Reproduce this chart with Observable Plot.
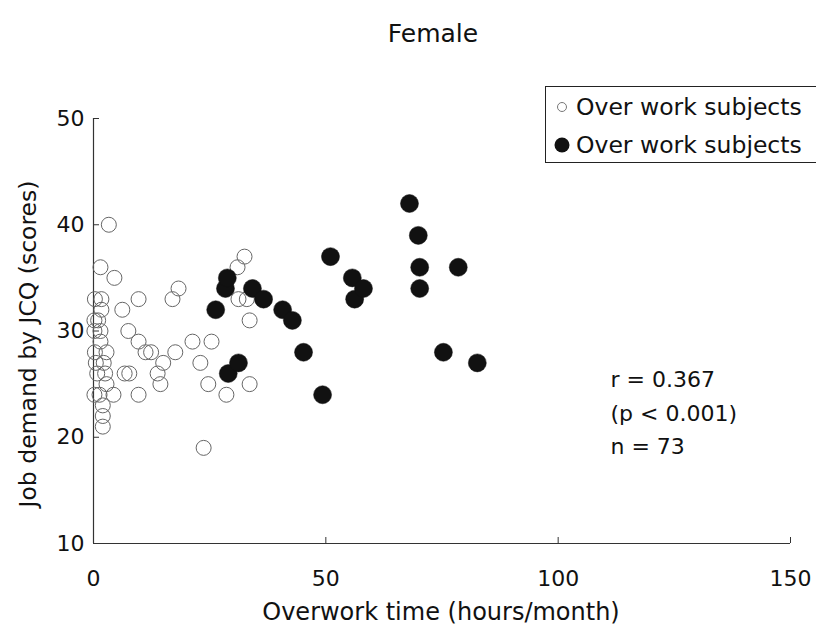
<!DOCTYPE html>
<html><head><meta charset="utf-8">
<script src="https://cdn.jsdelivr.net/npm/d3@7"></script>
<script src="https://cdn.jsdelivr.net/npm/@observablehq/plot@0.6"></script>
<style>
html,body{margin:0;padding:0;background:#fff;overflow:hidden;}
#wrap{position:relative;width:816px;height:633px;font-family:"DejaVu Sans",sans-serif;color:#111;}
#legend{position:absolute;left:545px;top:86px;width:300px;height:75px;border:1px solid #222;background:#fff;}
.row{position:absolute;left:0;height:30px;display:flex;align-items:center;font-size:23.5px;white-space:nowrap;}
.row svg{margin-left:8px;margin-right:6px;}
</style></head>
<body>
<div id="wrap"><div id="legend"></div></div>
<script>
// Open circles (x: overwork hours/month, y: JCQ job demand score)
const openX = [3.3,1.5,4.5,1.7,9.7,1.7,6.2,1.0,0.2,0.2,1.5,7.5,1.5,9.7,2.8,11.2,12.4,17.6,2.2,15.0,0.8,2.5,6.7,7.7,13.8,2.8,14.4,0.2,1.3,4.3,9.7,2.0,2.0,2.0,18.3,17.0,21.3,25.4,23.0,24.7,33.6,28.6,23.7,32.5,31.0,31.2,33.0,33.6,0.3,0.3,0.5];
const openY = [40,36,35,33,33,32,32,31,31,30,30,30,29,29,28,28,28,28,27,27,26,26,26,26,26,25,25,24,24,24,24,23,22,21,34,33,29,29,27,25,25,24,19,37,36,33,33,31,33,28,27];
// Filled circles
const filledX = [26.3,28.4,28.8,29.0,31.2,34.2,36.6,40.7,42.8,45.2,49.3,51.0,55.7,56.2,58.1,68.0,69.9,70.2,70.2,75.3,78.5,82.6];
const filledY = [32,34,35,26,27,34,33,32,31,28,24,37,35,33,34,42,39,36,34,28,36,27];
const xTicks = [0,50,100,150];
const yTicks = [10,20,30,40,50];
const titleText = "Female";
const xLabel = "Overwork time (hours/month)";
const yLabel = "Job demand by JCQ (scores)";
const legendLabels = ["Over work subjects","Over work subjects"];
const statsText = ["r = 0.367","(p < 0.001)","n = 73"];

const openData = openX.map((x,i)=>({x, y: openY[i]}));
const filledData = filledX.map((x,i)=>({x, y: filledY[i]}));

const chart = Plot.plot({
  width: 816, height: 633,
  marginLeft: 93, marginRight: 26, marginTop: 118, marginBottom: 90,
  style: {fontFamily: "DejaVu Sans, sans-serif", fontSize: "22px", color: "#111", background: "#fff", overflow: "visible"},
  x: {domain: [0,150]},
  y: {domain: [10,50]},
  marks: [
    Plot.ruleX([0], {stroke: "#333", strokeWidth: 1.2}),
    Plot.ruleY([10], {stroke: "#333", strokeWidth: 1.2}),
    Plot.axisX(xTicks.slice(1), {tickSize: -6, tickFormat: () => "", label: null, stroke: "#333"}),
    Plot.axisX(xTicks, {tickSize: 0, tickPadding: 27, label: null, fontSize: 22}),
    Plot.axisY(yTicks.slice(1), {tickSize: -6, tickFormat: () => "", label: null, stroke: "#333"}),
    Plot.axisY(yTicks, {tickSize: 0, tickPadding: 9, label: null, fontSize: 22}),
    Plot.dot(openData, {x: "x", y: "y", r: 7.5, stroke: "#666", strokeWidth: 1, fill: "none"}),
    Plot.dot(filledData, {x: "x", y: "y", r: 9, fill: "#111", stroke: "#111", strokeWidth: 0.5}),
    Plot.text([titleText], {frameAnchor: "top", dx: -9, dy: -85, fontSize: 25, lineAnchor: "middle"}),
    Plot.text([xLabel], {frameAnchor: "bottom", dx: -1, dy: 69, fontSize: 24, lineAnchor: "middle"}),
    Plot.text([yLabel], {frameAnchor: "left", textAnchor: "middle", dx: -65, dy: 13, rotate: -90, fontSize: 23.5, lineAnchor: "middle"}),
    Plot.text([statsText.join("\n")], {frameAnchor: "left", dx: 517, dy: 79, textAnchor: "start", lineAnchor: "middle", lineHeight: 1.52, fontSize: 22})
  ]
});
document.getElementById("wrap").prepend(chart);

const legend = document.getElementById("legend");
const mk = [
  '<svg width="16" height="16"><circle cx="8" cy="8" r="4.5" fill="none" stroke="#777" stroke-width="1"/></svg>',
  '<svg width="16" height="16"><circle cx="8" cy="8" r="7.5" fill="#111"/></svg>'
];
legendLabels.forEach((t,i)=>{
  const d = document.createElement("div");
  d.className = "row";
  d.style.top = (i === 0 ? 5 : 43) + "px";
  d.innerHTML = mk[i] + "<span>" + t + "</span>";
  legend.appendChild(d);
});
</script>
</body></html>
